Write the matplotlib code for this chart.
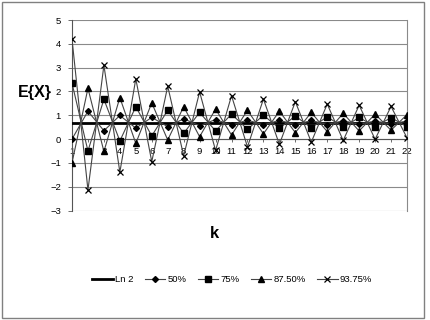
import matplotlib
matplotlib.use("Agg")
import matplotlib.pyplot as plt
from matplotlib.patches import Rectangle
import numpy as np

plt.rcParams['font.family'] = ['Liberation Sans', 'DejaVu Sans']

k = list(range(1, 23))
ln2 = [0.693] * 22
s50 = [0.0, 1.17, 0.35, 0.99, 0.46, 0.91, 0.52, 0.85, 0.56, 0.82, 0.58, 0.80,
       0.59, 0.79, 0.60, 0.78, 0.61, 0.77, 0.62, 0.76, 0.63, 0.76]
s75 = [2.35, -0.50, 1.67, -0.08, 1.36, 0.13, 1.21, 0.24, 1.12, 0.34, 1.05, 0.41,
       1.00, 0.45, 0.97, 0.47, 0.94, 0.49, 0.91, 0.52, 0.90, 0.52]
s875 = [-1.00, 2.13, -0.52, 1.74, -0.18, 1.52, -0.04, 1.36, 0.10, 1.26, 0.17, 1.21,
        0.22, 1.17, 0.27, 1.12, 0.31, 1.08, 0.34, 1.05, 0.37, 1.03]
s9375 = [4.20, -2.14, 3.10, -1.39, 2.53, -0.95, 2.22, -0.70, 1.98, -0.48, 1.82, -0.33,
         1.68, -0.22, 1.57, -0.13, 1.47, -0.06, 1.42, -0.01, 1.37, 0.05]
labels = ["Ln 2", "50%", "75%", "87.50%", "93.75%"]

fig = plt.figure(figsize=(4.3, 3.2), dpi=100)
ax = fig.add_axes([72/430, 1 - 210.5/320, (407 - 72)/430, (210.5 - 20)/320])

grid_c = '#8a8a8a'
for y in range(-3, 6):
    ax.axhline(y, color=grid_c, lw=0.8, zorder=1)

line_c = '#444444'
ax.plot(k, ln2, color='black', lw=2.0, zorder=3, label=labels[0])
ax.plot(k, s50, color=line_c, lw=0.8, marker='D', ms=3.0, mfc='black', mec='black', zorder=4, label=labels[1])
ax.plot(k, s75, color=line_c, lw=0.8, marker='s', ms=4.5, mfc='black', mec='black', zorder=4, label=labels[2])
ax.plot(k, s875, color=line_c, lw=0.8, marker='^', ms=4.5, mfc='black', mec='black', zorder=4, label=labels[3])
ax.plot(k, s9375, color=line_c, lw=0.8, marker='x', ms=5, mfc='black', mec='black', mew=0.9, zorder=4, label=labels[4])

ax.set_xlim(1, 22)
ax.set_ylim(-3, 5)
ax.set_yticks(range(-3, 6))
ax.set_xticks(k)
ax.set_xticklabels([str(v) for v in k])

ax.spines['bottom'].set_position(('data', 0))
ax.spines['bottom'].set_color('#555555')
ax.spines['bottom'].set_linewidth(0.8)
ax.spines['left'].set_color('#555555')
ax.spines['left'].set_linewidth(0.8)
ax.spines['top'].set_visible(False)
ax.spines['right'].set_color(grid_c)
ax.spines['right'].set_linewidth(0.8)
ax.tick_params(axis='both', labelsize=6.8, colors='#555555', labelcolor='black', width=0.6)
ax.tick_params(axis='x', direction='out', length=2.5, pad=3)
ax.tick_params(axis='y', direction='out', length=3, pad=5)
ax.patch.set_visible(False)

fig.text(35/430, 1 - 93/320, "E{X}", fontsize=11.5, fontweight='bold', ha='center', va='center')
fig.text(214/430, 1 - 234/320, "k", fontsize=12, fontweight='bold', ha='center', va='center')

handles, labs = ax.get_legend_handles_labels()
fig.legend(handles, labs, loc='center', bbox_to_anchor=(232/430, 1 - 280/320), ncol=5,
           frameon=False, fontsize=6.8, handlelength=2.2, handletextpad=0.2,
           columnspacing=1.2, borderaxespad=0)

fig.patches.append(Rectangle((2/430, 2/320), 422/430, 316/320, transform=fig.transFigure,
                             fill=False, edgecolor='#808080', lw=1.0))

fig.savefig("out.png", dpi=100)
